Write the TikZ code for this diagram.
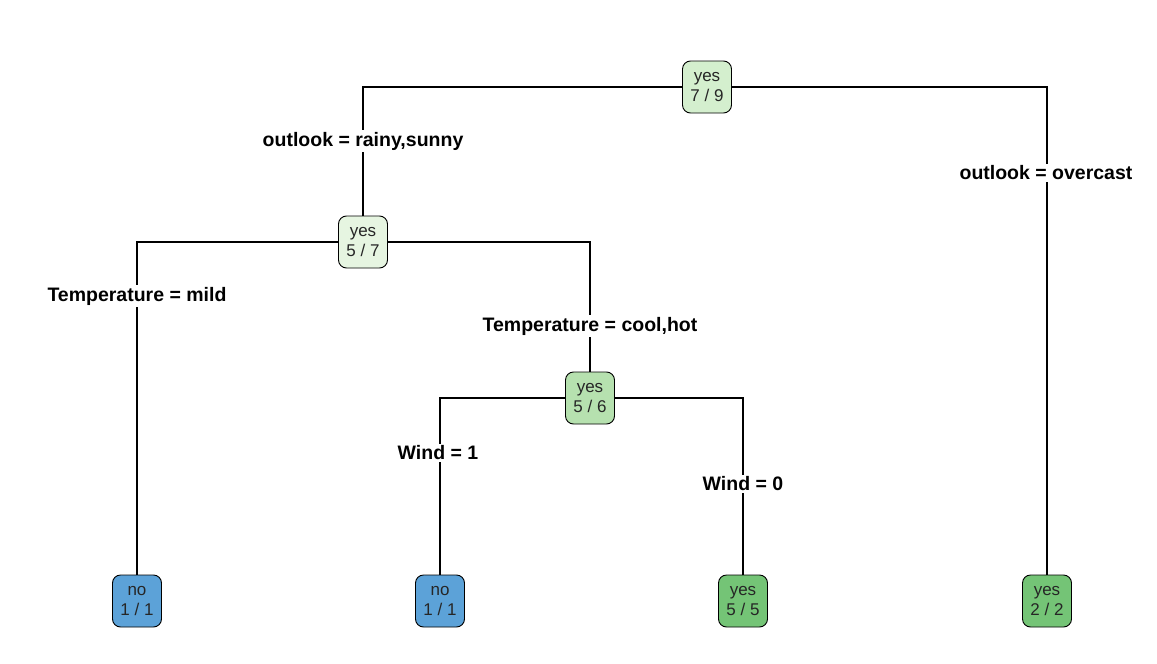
\documentclass[tikz,border=0pt]{standalone}
\usepackage{fontspec}
\setmainfont{Liberation Sans}
\definecolor{cRoot}{HTML}{D4EFCE}
\definecolor{cTwo}{HTML}{E6F5E1}
\definecolor{cThree}{HTML}{B6E1AF}
\definecolor{cGreen}{HTML}{74C476}
\definecolor{cBlue}{HTML}{5CA2D8}
\begin{document}
\begin{tikzpicture}[x=1pt,y=-1pt,
  treenode/.style={draw, line width=0.9pt, rounded corners=8pt, minimum width=49pt,
    minimum height=52pt, inner sep=0pt, align=center,
    font=\fontsize{17}{20}\selectfont, text=black!85},
  edge/.style={line width=1.3pt},
  lbl/.style={fill=white, inner sep=2pt, font=\bfseries\fontsize{19.5}{22}\selectfont}]
\useasboundingbox (0,0) rectangle (1157,664);
\node[treenode, fill=cRoot] (root) at (707,87) {yes\\7 / 9};
\node[treenode, fill=cTwo] (n2) at (363,242) {yes\\5 / 7};
\node[treenode, fill=cThree] (n3) at (590,398) {yes\\5 / 6};
\node[treenode, fill=cBlue] (l1) at (137,601) {no\\1 / 1};
\node[treenode, fill=cBlue] (l2) at (440,601) {no\\1 / 1};
\node[treenode, fill=cGreen] (l3) at (743,601) {yes\\5 / 5};
\node[treenode, fill=cGreen] (l4) at (1047,601) {yes\\2 / 2};
\draw[edge] (root.west) -| (n2.north);
\draw[edge] (root.east) -| (l4.north);
\draw[edge] (n2.west) -| (l1.north);
\draw[edge] (n2.east) -| (n3.north);
\draw[edge] (n3.west) -| (l2.north);
\draw[edge] (n3.east) -| (l3.north);
\node[lbl] (e1) at (363,141) {outlook = rainy,sunny};
\node[lbl] (e2) at (1046,173) {outlook = overcast};
\node[lbl] (e3) at (137,296) {Temperature = mild};
\node[lbl] (e4) at (590,326) {Temperature = cool,hot};
\node[lbl] (e5) at (438,453) {Wind = 1};
\node[lbl] (e6) at (743,484) {Wind = 0};
\end{tikzpicture}
\end{document}
